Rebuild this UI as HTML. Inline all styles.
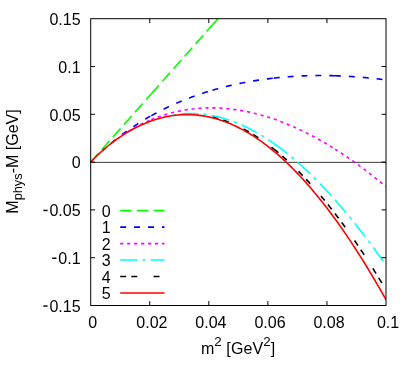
<!DOCTYPE html>
<html><head><meta charset="utf-8"><title>plot</title>
<style>
html,body{margin:0;padding:0;background:#fff;}
body{width:415px;height:375px;overflow:hidden;font-family:"Liberation Sans",sans-serif;}
svg{display:block;will-change:transform;opacity:0.999;}
text{font-family:"Liberation Sans",sans-serif;font-size:16px;fill:#000;}
</style></head><body>
<svg width="415" height="375" viewBox="0 0 415 375">
<rect x="0" y="0" width="415" height="375" fill="#ffffff"/>
<defs><clipPath id="c"><rect x="90.70" y="18.70" width="295.30" height="286.80"/></clipPath>
<clipPath id="c_black"><rect x="205.00" y="18.70" width="181.00" height="286.80"/></clipPath>
<clipPath id="c_cyan"><rect x="172.00" y="18.70" width="214.00" height="286.80"/></clipPath>
<clipPath id="c_mag"><rect x="118.00" y="18.70" width="268.00" height="286.80"/></clipPath>
<clipPath id="c_blue"><rect x="103.00" y="18.70" width="283.00" height="286.80"/></clipPath>
</defs>
<line x1="90.70" y1="162.35" x2="386.00" y2="162.35" stroke="#222" stroke-width="0.9"/>
<g clip-path="url(#c)" fill="none" stroke-width="1.6" stroke-linejoin="round">
<path d="M90.70,162.10 L92.22,160.39 L93.73,158.69 L95.25,156.98 L96.76,155.27 L98.28,153.57 L99.79,151.86 L101.31,150.15 L102.82,148.45 L104.34,146.74 L105.85,145.03 L107.37,143.33 L108.88,141.62 L110.40,139.91 L111.91,138.20 L113.43,136.50 L114.94,134.79 L116.45,133.08 L117.97,131.38 L119.48,129.67 L121.00,127.96 L122.52,126.26 L124.03,124.55 L125.55,122.84 L127.06,121.14 L128.58,119.43 L130.09,117.72 L131.61,116.02 L133.12,114.31 L134.63,112.60 L136.15,110.90 L137.67,109.19 L139.18,107.48 L140.69,105.78 L142.21,104.07 L143.73,102.36 L145.24,100.65 L146.75,98.95 L148.27,97.24 L149.79,95.53 L151.30,93.83" stroke="#00ff00" stroke-dasharray="11.5 5.2"/>
<path d="M151.30,93.83 L152.83,92.10 L154.36,90.38 L155.89,88.66 L157.42,86.93 L158.95,85.21 L160.48,83.49 L162.01,81.76 L163.54,80.04 L165.07,78.31 L166.60,76.59 L168.13,74.87 L169.66,73.14 L171.19,71.42 L172.72,69.70 L174.25,67.97 L175.78,66.25 L177.31,64.52 L178.84,62.80 L180.37,61.08 L181.90,59.35 L183.43,57.63 L184.96,55.91 L186.49,54.18 L188.02,52.46 L189.55,50.73 L191.08,49.01 L192.61,47.29 L194.14,45.56 L195.67,43.84 L197.20,42.12 L198.73,40.39 L200.26,38.67 L201.79,36.94 L203.32,35.22 L204.85,33.50 L206.38,31.77 L207.91,30.05 L209.44,28.33 L210.97,26.60 L212.50,24.88" stroke="#00ff00" stroke-dasharray="11.5 5.2"/>
<path d="M212.50,24.88 L214.03,23.15 L215.56,21.43 L217.10,19.70 L218.63,17.97 L220.16,16.25 L221.69,14.52 L223.23,12.79 L224.76,11.07 L226.29,9.34 L227.82,7.61 L229.36,5.89 L230.89,4.16 L232.42,2.43 L233.95,0.71 L235.49,-1.02 L237.02,-2.75 L238.55,-4.47 L240.08,-6.20 L241.62,-7.93 L243.15,-9.65 L244.68,-11.38 L246.22,-13.10 L247.75,-14.83 L249.28,-16.56 L250.81,-18.28 L252.35,-20.01 L253.88,-21.74 L255.41,-23.46 L256.94,-25.19 L258.48,-26.92 L260.01,-28.64 L261.54,-30.37 L263.07,-32.10 L264.61,-33.82 L266.14,-35.55 L267.67,-37.28 L269.20,-39.00 L270.74,-40.73 L272.27,-42.46 L273.80,-44.18" stroke="#00ff00" stroke-dasharray="11.5 5.2"/>
<path d="M273.80,-44.18 L275.33,-45.91 L276.86,-47.63 L278.39,-49.35 L279.92,-51.08 L281.45,-52.80 L282.98,-54.52 L284.51,-56.25 L286.04,-57.97 L287.57,-59.70 L289.10,-61.42 L290.63,-63.14 L292.16,-64.87 L293.69,-66.59 L295.22,-68.31 L296.75,-70.04 L298.28,-71.76 L299.81,-73.49 L301.34,-75.21 L302.87,-76.93 L304.40,-78.66 L305.93,-80.38 L307.46,-82.10 L308.99,-83.83 L310.52,-85.55 L312.05,-87.28 L313.58,-89.00 L315.11,-90.72 L316.64,-92.45 L318.17,-94.17 L319.70,-95.89 L321.23,-97.62 L322.76,-99.34 L324.29,-101.06 L325.82,-102.79 L327.35,-104.51 L328.88,-106.24 L330.41,-107.96 L331.94,-109.68 L333.47,-111.41 L335.00,-113.13" stroke="#00ff00" stroke-dasharray="11.5 5.2"/>
<path d="M335.00,-113.13 L336.27,-114.57 L337.55,-116.00 L338.82,-117.44 L340.10,-118.88 L341.38,-120.31 L342.65,-121.75 L343.93,-123.19 L345.20,-124.62 L346.48,-126.06 L347.75,-127.50 L349.02,-128.93 L350.30,-130.37 L351.57,-131.80 L352.85,-133.24 L354.12,-134.68 L355.40,-136.11 L356.67,-137.55 L357.95,-138.99 L359.22,-140.42 L360.50,-141.86 L361.77,-143.30 L363.05,-144.73 L364.32,-146.17 L365.60,-147.61 L366.88,-149.04 L368.15,-150.48 L369.43,-151.91 L370.70,-153.35 L371.98,-154.79 L373.25,-156.22 L374.53,-157.66 L375.80,-159.10 L377.07,-160.53 L378.35,-161.97 L379.62,-163.41 L380.90,-164.84 L382.18,-166.28 L383.45,-167.72 L384.73,-169.15 L386.00,-170.59" stroke="#00ff00" stroke-dasharray="11.5 5.2"/>
<g clip-path="url(#c_blue)">
<path d="M90.70,162.10 L92.22,160.52 L93.73,158.98 L95.25,157.47 L96.76,155.99 L98.28,154.54 L99.79,153.11 L101.31,151.71 L102.82,150.33 L104.34,148.97 L105.85,147.64 L107.37,146.32 L108.88,145.03 L110.40,143.75 L111.91,142.50 L113.43,141.27 L114.94,140.05 L116.45,138.85 L117.97,137.67 L119.48,136.51 L121.00,135.37 L122.52,134.24 L124.03,133.13 L125.55,132.03 L127.06,130.96 L128.58,129.89 L130.09,128.85 L131.61,127.82 L133.12,126.80 L134.63,125.80 L136.15,124.81 L137.67,123.84 L139.18,122.88 L140.69,121.93 L142.21,121.00 L143.73,120.08 L145.24,119.18 L146.75,118.29 L148.27,117.41 L149.79,116.55 L151.30,115.69" stroke="#0000ff" stroke-dasharray="5.95 7.95"/>
<path d="M151.30,115.69 L152.83,114.85 L154.36,114.01 L155.89,113.19 L157.42,112.38 L158.95,111.58 L160.48,110.79 L162.01,110.01 L163.54,109.25 L165.07,108.50 L166.60,107.76 L168.13,107.03 L169.66,106.31 L171.19,105.60 L172.72,104.90 L174.25,104.22 L175.78,103.54 L177.31,102.88 L178.84,102.22 L180.37,101.58 L181.90,100.94 L183.43,100.32 L184.96,99.70 L186.49,99.10 L188.02,98.51 L189.55,97.92 L191.08,97.34 L192.61,96.78 L194.14,96.22 L195.67,95.67 L197.20,95.13 L198.73,94.60 L200.26,94.08 L201.79,93.57 L203.32,93.07 L204.85,92.57 L206.38,92.08 L207.91,91.61 L209.44,91.14 L210.97,90.68 L212.50,90.22" stroke="#0000ff" stroke-dasharray="5.95 7.95"/>
<path d="M212.50,90.22 L214.03,89.78 L215.56,89.34 L217.10,88.91 L218.63,88.49 L220.16,88.08 L221.69,87.67 L223.23,87.27 L224.76,86.88 L226.29,86.50 L227.82,86.13 L229.36,85.76 L230.89,85.40 L232.42,85.05 L233.95,84.70 L235.49,84.36 L237.02,84.03 L238.55,83.71 L240.08,83.39 L241.62,83.08 L243.15,82.78 L244.68,82.49 L246.22,82.20 L247.75,81.91 L249.28,81.64 L250.81,81.37 L252.35,81.11 L253.88,80.85 L255.41,80.61 L256.94,80.36 L258.48,80.13 L260.01,79.90 L261.54,79.68 L263.07,79.46 L264.61,79.25 L266.14,79.04 L267.67,78.85 L269.20,78.66 L270.74,78.47 L272.27,78.29 L273.80,78.12" stroke="#0000ff" stroke-dasharray="5.95 7.95"/>
<path d="M273.80,78.12 L275.33,77.95 L276.86,77.79 L278.39,77.63 L279.92,77.48 L281.45,77.34 L282.98,77.20 L284.51,77.07 L286.04,76.94 L287.57,76.82 L289.10,76.71 L290.63,76.60 L292.16,76.49 L293.69,76.40 L295.22,76.30 L296.75,76.22 L298.28,76.14 L299.81,76.06 L301.34,75.99 L302.87,75.92 L304.40,75.86 L305.93,75.81 L307.46,75.76 L308.99,75.72 L310.52,75.68 L312.05,75.64 L313.58,75.61 L315.11,75.59 L316.64,75.57 L318.17,75.56 L319.70,75.55 L321.23,75.55 L322.76,75.55 L324.29,75.56 L325.82,75.57 L327.35,75.59 L328.88,75.61 L330.41,75.64 L331.94,75.67 L333.47,75.71 L335.00,75.75" stroke="#0000ff" stroke-dasharray="5.95 7.95"/>
<path d="M335.00,75.75 L336.27,75.79 L337.55,75.84 L338.82,75.88 L340.10,75.93 L341.38,75.98 L342.65,76.04 L343.93,76.10 L345.20,76.16 L346.48,76.23 L347.75,76.30 L349.02,76.37 L350.30,76.45 L351.57,76.53 L352.85,76.61 L354.12,76.70 L355.40,76.79 L356.67,76.88 L357.95,76.98 L359.22,77.08 L360.50,77.18 L361.77,77.28 L363.05,77.39 L364.32,77.51 L365.60,77.62 L366.88,77.74 L368.15,77.86 L369.43,77.99 L370.70,78.12 L371.98,78.25 L373.25,78.38 L374.53,78.52 L375.80,78.66 L377.07,78.81 L378.35,78.96 L379.62,79.11 L380.90,79.26 L382.18,79.42 L383.45,79.58 L384.73,79.75 L386.00,79.91" stroke="#0000ff" stroke-dasharray="5.95 7.95"/>
</g>
<g clip-path="url(#c_mag)">
<path d="M90.70,162.10 L92.22,160.49 L93.73,158.94 L95.25,157.42 L96.76,155.94 L98.28,154.49 L99.79,153.08 L101.31,151.70 L102.82,150.34 L104.34,149.02 L105.85,147.72 L107.37,146.45 L108.88,145.21 L110.40,143.99 L111.91,142.80 L113.43,141.64 L114.94,140.50 L116.45,139.38 L117.97,138.29 L119.48,137.22 L121.00,136.17 L122.52,135.15 L124.03,134.15 L125.55,133.17 L127.06,132.21 L128.58,131.28 L130.09,130.36 L131.61,129.47 L133.12,128.60 L134.63,127.75 L136.15,126.92 L137.67,126.11 L139.18,125.32 L140.69,124.55 L142.21,123.80 L143.73,123.07 L145.24,122.36 L146.75,121.66 L148.27,120.99 L149.79,120.33 L151.30,119.70" stroke="#ff00ff" stroke-dasharray="3.15 3.8"/>
<path d="M151.30,119.70 L152.83,119.07 L154.36,118.47 L155.89,117.88 L157.42,117.31 L158.95,116.76 L160.48,116.23 L162.01,115.71 L163.54,115.21 L165.07,114.73 L166.60,114.27 L168.13,113.82 L169.66,113.40 L171.19,112.98 L172.72,112.59 L174.25,112.21 L175.78,111.85 L177.31,111.51 L178.84,111.18 L180.37,110.87 L181.90,110.57 L183.43,110.29 L184.96,110.03 L186.49,109.78 L188.02,109.55 L189.55,109.33 L191.08,109.13 L192.61,108.94 L194.14,108.77 L195.67,108.62 L197.20,108.48 L198.73,108.35 L200.26,108.24 L201.79,108.15 L203.32,108.06 L204.85,108.00 L206.38,107.95 L207.91,107.91 L209.44,107.89 L210.97,107.88 L212.50,107.89" stroke="#ff00ff" stroke-dasharray="3.15 3.8"/>
<path d="M212.50,107.89 L214.03,107.91 L215.56,107.94 L217.10,107.99 L218.63,108.05 L220.16,108.13 L221.69,108.22 L223.23,108.32 L224.76,108.44 L226.29,108.57 L227.82,108.72 L229.36,108.88 L230.89,109.05 L232.42,109.23 L233.95,109.43 L235.49,109.64 L237.02,109.87 L238.55,110.11 L240.08,110.36 L241.62,110.62 L243.15,110.90 L244.68,111.19 L246.22,111.49 L247.75,111.81 L249.28,112.13 L250.81,112.47 L252.35,112.83 L253.88,113.19 L255.41,113.57 L256.94,113.96 L258.48,114.36 L260.01,114.78 L261.54,115.20 L263.07,115.64 L264.61,116.09 L266.14,116.56 L267.67,117.03 L269.20,117.52 L270.74,118.02 L272.27,118.53 L273.80,119.05" stroke="#ff00ff" stroke-dasharray="3.15 3.8"/>
<path d="M273.80,119.05 L275.33,119.59 L276.86,120.13 L278.39,120.69 L279.92,121.26 L281.45,121.84 L282.98,122.43 L284.51,123.03 L286.04,123.64 L287.57,124.27 L289.10,124.91 L290.63,125.56 L292.16,126.21 L293.69,126.89 L295.22,127.57 L296.75,128.26 L298.28,128.96 L299.81,129.68 L301.34,130.40 L302.87,131.14 L304.40,131.89 L305.93,132.65 L307.46,133.42 L308.99,134.20 L310.52,134.99 L312.05,135.79 L313.58,136.60 L315.11,137.43 L316.64,138.26 L318.17,139.11 L319.70,139.96 L321.23,140.83 L322.76,141.70 L324.29,142.59 L325.82,143.49 L327.35,144.39 L328.88,145.31 L330.41,146.24 L331.94,147.18 L333.47,148.13 L335.00,149.08" stroke="#ff00ff" stroke-dasharray="3.15 3.8"/>
<path d="M335.00,149.08 L336.27,149.89 L337.55,150.71 L338.82,151.53 L340.10,152.35 L341.38,153.19 L342.65,154.03 L343.93,154.88 L345.20,155.74 L346.48,156.60 L347.75,157.47 L349.02,158.35 L350.30,159.23 L351.57,160.12 L352.85,161.02 L354.12,161.92 L355.40,162.83 L356.67,163.75 L357.95,164.68 L359.22,165.61 L360.50,166.55 L361.77,167.49 L363.05,168.45 L364.32,169.41 L365.60,170.37 L366.88,171.34 L368.15,172.32 L369.43,173.31 L370.70,174.30 L371.98,175.30 L373.25,176.31 L374.53,177.32 L375.80,178.34 L377.07,179.37 L378.35,180.40 L379.62,181.44 L380.90,182.48 L382.18,183.54 L383.45,184.59 L384.73,185.66 L386.00,186.73" stroke="#ff00ff" stroke-dasharray="3.15 3.8"/>
</g>
<g clip-path="url(#c_cyan)">
<path d="M90.70,162.10 L92.22,160.44 L93.73,158.87 L95.25,157.35 L96.76,155.86 L98.28,154.42 L99.79,153.02 L101.31,151.64 L102.82,150.30 L104.34,148.99 L105.85,147.70 L107.37,146.45 L108.88,145.22 L110.40,144.01 L111.91,142.84 L113.43,141.69 L114.94,140.56 L116.45,139.46 L117.97,138.39 L119.48,137.34 L121.00,136.31 L122.52,135.31 L124.03,134.33 L125.55,133.38 L127.06,132.45 L128.58,131.54 L130.09,130.65 L131.61,129.79 L133.12,128.96 L134.63,128.14 L136.15,127.35 L137.67,126.58 L139.18,125.83 L140.69,125.11 L142.21,124.41 L143.73,123.73 L145.24,123.07 L146.75,122.44 L148.27,121.82 L149.79,121.23 L151.30,120.67" stroke="#00ffff" stroke-dasharray="17.1 5.15 3.2 5.15"/>
<path d="M151.30,120.67 L152.83,120.12 L154.36,119.59 L155.89,119.08 L157.42,118.60 L158.95,118.14 L160.48,117.70 L162.01,117.28 L163.54,116.88 L165.07,116.51 L166.60,116.16 L168.13,115.83 L169.66,115.53 L171.19,115.24 L172.72,114.98 L174.25,114.74 L175.78,114.52 L177.31,114.32 L178.84,114.14 L180.37,113.99 L181.90,113.85 L183.43,113.74 L184.96,113.65 L186.49,113.58 L188.02,113.54 L189.55,113.51 L191.08,113.51 L192.61,113.52 L194.14,113.56 L195.67,113.62 L197.20,113.70 L198.73,113.80 L200.26,113.92 L201.79,114.06 L203.32,114.23 L204.85,114.41 L206.38,114.62 L207.91,114.84 L209.44,115.09 L210.97,115.36 L212.50,115.64" stroke="#00ffff" stroke-dasharray="17.1 5.15 3.2 5.15"/>
<path d="M212.50,115.64 L214.03,115.95 L215.56,116.28 L217.10,116.63 L218.63,117.00 L220.16,117.39 L221.69,117.80 L223.23,118.23 L224.76,118.69 L226.29,119.16 L227.82,119.65 L229.36,120.16 L230.89,120.69 L232.42,121.24 L233.95,121.81 L235.49,122.40 L237.02,123.01 L238.55,123.64 L240.08,124.29 L241.62,124.96 L243.15,125.65 L244.68,126.36 L246.22,127.09 L247.75,127.83 L249.28,128.60 L250.81,129.38 L252.35,130.19 L253.88,131.01 L255.41,131.85 L256.94,132.71 L258.48,133.59 L260.01,134.49 L261.54,135.41 L263.07,136.34 L264.61,137.30 L266.14,138.27 L267.67,139.26 L269.20,140.27 L270.74,141.30 L272.27,142.34 L273.80,143.40" stroke="#00ffff" stroke-dasharray="17.1 5.15 3.2 5.15"/>
<path d="M273.80,143.40 L275.33,144.48 L276.86,145.58 L278.39,146.70 L279.92,147.83 L281.45,148.98 L282.98,150.15 L284.51,151.34 L286.04,152.54 L287.57,153.76 L289.10,155.00 L290.63,156.26 L292.16,157.53 L293.69,158.82 L295.22,160.13 L296.75,161.45 L298.28,162.79 L299.81,164.15 L301.34,165.53 L302.87,166.92 L304.40,168.32 L305.93,169.75 L307.46,171.19 L308.99,172.65 L310.52,174.12 L312.05,175.61 L313.58,177.11 L315.11,178.63 L316.64,180.17 L318.17,181.72 L319.70,183.29 L321.23,184.88 L322.76,186.48 L324.29,188.09 L325.82,189.72 L327.35,191.37 L328.88,193.03 L330.41,194.71 L331.94,196.40 L333.47,198.11 L335.00,199.83" stroke="#00ffff" stroke-dasharray="17.1 5.15 3.2 5.15"/>
<path d="M335.00,199.83 L336.27,201.28 L337.55,202.73 L338.82,204.20 L340.10,205.67 L341.38,207.16 L342.65,208.66 L343.93,210.16 L345.20,211.68 L346.48,213.21 L347.75,214.74 L349.02,216.29 L350.30,217.85 L351.57,219.41 L352.85,220.99 L354.12,222.57 L355.40,224.17 L356.67,225.77 L357.95,227.38 L359.22,229.01 L360.50,230.64 L361.77,232.28 L363.05,233.93 L364.32,235.59 L365.60,237.26 L366.88,238.94 L368.15,240.62 L369.43,242.32 L370.70,244.02 L371.98,245.74 L373.25,247.46 L374.53,249.19 L375.80,250.93 L377.07,252.68 L378.35,254.44 L379.62,256.20 L380.90,257.98 L382.18,259.76 L383.45,261.55 L384.73,263.35 L386.00,265.16" stroke="#00ffff" stroke-dasharray="17.1 5.15 3.2 5.15"/>
</g>
<g clip-path="url(#c_black)">
<path d="M90.70,162.10 L92.22,160.44 L93.73,158.87 L95.25,157.35 L96.76,155.86 L98.28,154.42 L99.79,153.02 L101.31,151.64 L102.82,150.30 L104.34,148.99 L105.85,147.70 L107.37,146.45 L108.88,145.22 L110.40,144.02 L111.91,142.85 L113.43,141.70 L114.94,140.57 L116.45,139.48 L117.97,138.40 L119.48,137.36 L121.00,136.33 L122.52,135.33 L124.03,134.36 L125.55,133.41 L127.06,132.48 L128.58,131.58 L130.09,130.70 L131.61,129.85 L133.12,129.02 L134.63,128.21 L136.15,127.42 L137.67,126.66 L139.18,125.92 L140.69,125.21 L142.21,124.52 L143.73,123.85 L145.24,123.20 L146.75,122.58 L148.27,121.98 L149.79,121.40 L151.30,120.85" stroke="#000000" stroke-dasharray="5.95 5.15 5.95 16.3"/>
<path d="M151.30,120.85 L152.83,120.31 L154.36,119.80 L155.89,119.31 L157.42,118.84 L158.95,118.40 L160.48,117.98 L162.01,117.58 L163.54,117.20 L165.07,116.85 L166.60,116.52 L168.13,116.22 L169.66,115.94 L171.19,115.68 L172.72,115.44 L174.25,115.23 L175.78,115.03 L177.31,114.87 L178.84,114.72 L180.37,114.60 L181.90,114.50 L183.43,114.42 L184.96,114.37 L186.49,114.33 L188.02,114.32 L189.55,114.34 L191.08,114.37 L192.61,114.43 L194.14,114.51 L195.67,114.61 L197.20,114.74 L198.73,114.89 L200.26,115.06 L201.79,115.25 L203.32,115.47 L204.85,115.70 L206.38,115.96 L207.91,116.24 L209.44,116.55 L210.97,116.88 L212.50,117.22" stroke="#000000" stroke-dasharray="5.95 5.15 5.95 16.3"/>
<path d="M212.50,117.22 L214.03,117.60 L215.56,117.99 L217.10,118.40 L218.63,118.84 L220.16,119.30 L221.69,119.78 L223.23,120.29 L224.76,120.81 L226.29,121.36 L227.82,121.93 L229.36,122.52 L230.89,123.13 L232.42,123.77 L233.95,124.43 L235.49,125.11 L237.02,125.81 L238.55,126.53 L240.08,127.27 L241.62,128.04 L243.15,128.82 L244.68,129.63 L246.22,130.46 L247.75,131.31 L249.28,132.18 L250.81,133.08 L252.35,133.99 L253.88,134.93 L255.41,135.89 L256.94,136.86 L258.48,137.86 L260.01,138.88 L261.54,139.93 L263.07,140.99 L264.61,142.07 L266.14,143.18 L267.67,144.30 L269.20,145.45 L270.74,146.61 L272.27,147.80 L273.80,149.01" stroke="#000000" stroke-dasharray="5.95 5.15 5.95 16.3"/>
<path d="M273.80,149.01 L275.33,150.24 L276.86,151.48 L278.39,152.75 L279.92,154.04 L281.45,155.35 L282.98,156.68 L284.51,158.03 L286.04,159.40 L287.57,160.79 L289.10,162.20 L290.63,163.62 L292.16,165.07 L293.69,166.54 L295.22,168.03 L296.75,169.54 L298.28,171.07 L299.81,172.62 L301.34,174.19 L302.87,175.78 L304.40,177.38 L305.93,179.01 L307.46,180.66 L308.99,182.32 L310.52,184.01 L312.05,185.71 L313.58,187.44 L315.11,189.18 L316.64,190.94 L318.17,192.72 L319.70,194.52 L321.23,196.34 L322.76,198.18 L324.29,200.04 L325.82,201.91 L327.35,203.81 L328.88,205.72 L330.41,207.65 L331.94,209.60 L333.47,211.57 L335.00,213.56" stroke="#000000" stroke-dasharray="5.95 5.15 5.95 16.3"/>
<path d="M335.00,213.56 L336.27,215.23 L337.55,216.91 L338.82,218.61 L340.10,220.32 L341.38,222.04 L342.65,223.77 L343.93,225.51 L345.20,227.27 L346.48,229.04 L347.75,230.83 L349.02,232.62 L350.30,234.43 L351.57,236.25 L352.85,238.08 L354.12,239.93 L355.40,241.78 L356.67,243.65 L357.95,245.53 L359.22,247.43 L360.50,249.33 L361.77,251.25 L363.05,253.18 L364.32,255.12 L365.60,257.07 L366.88,259.04 L368.15,261.01 L369.43,263.00 L370.70,265.00 L371.98,267.01 L373.25,269.03 L374.53,271.07 L375.80,273.12 L377.07,275.17 L378.35,277.24 L379.62,279.32 L380.90,281.42 L382.18,283.52 L383.45,285.64 L384.73,287.76 L386.00,289.90" stroke="#000000" stroke-dasharray="5.95 5.15 5.95 16.3"/>
</g>
<path d="M90.70,162.10 L92.55,160.10 L94.39,158.20 L96.24,156.37 L98.08,154.60 L99.93,152.89 L101.77,151.22 L103.62,149.60 L105.47,148.03 L107.31,146.49 L109.16,145.00 L111.00,143.55 L112.85,142.13 L114.69,140.76 L116.54,139.42 L118.38,138.12 L120.23,136.86 L122.08,135.63 L123.92,134.44 L125.77,133.28 L127.61,132.16 L129.46,131.08 L131.30,130.03 L133.15,129.02 L135.00,128.04 L136.84,127.10 L138.69,126.19 L140.53,125.32 L142.38,124.48 L144.22,123.67 L146.07,122.90 L147.91,122.17 L149.76,121.47 L151.61,120.80 L153.45,120.17 L155.30,119.57 L157.14,119.01 L158.99,118.48 L160.83,117.98 L162.68,117.52 L164.53,117.09 L166.37,116.70 L168.22,116.34 L170.06,116.01 L171.91,115.72 L173.75,115.46 L175.60,115.24 L177.44,115.05 L179.29,114.89 L181.14,114.77 L182.98,114.68 L184.83,114.62 L186.67,114.60 L188.52,114.61 L190.36,114.66 L192.21,114.73 L194.06,114.85 L195.90,114.99 L197.75,115.17 L199.59,115.38 L201.44,115.63 L203.28,115.91 L205.13,116.22 L206.97,116.57 L208.82,116.95 L210.67,117.36 L212.51,117.80 L214.36,118.28 L216.20,118.79 L218.05,119.34 L219.89,119.92 L221.74,120.53 L223.58,121.17 L225.43,121.85 L227.28,122.55 L229.12,123.30 L230.97,124.07 L232.81,124.88 L234.66,125.72 L236.50,126.59 L238.35,127.50 L240.20,128.44 L242.04,129.41 L243.89,130.41 L245.73,131.44 L247.58,132.51 L249.42,133.61 L251.27,134.74 L253.12,135.91 L254.96,137.10 L256.81,138.33 L258.65,139.59 L260.50,140.88 L262.34,142.21 L264.19,143.56 L266.03,144.95 L267.88,146.37 L269.73,147.82 L271.57,149.30 L273.42,150.82 L275.26,152.36 L277.11,153.94 L278.95,155.55 L280.80,157.18 L282.64,158.85 L284.49,160.56 L286.34,162.29 L288.18,164.05 L290.03,165.85 L291.87,167.67 L293.72,169.53 L295.56,171.41 L297.41,173.33 L299.26,175.28 L301.10,177.26 L302.95,179.26 L304.79,181.30 L306.64,183.37 L308.48,185.47 L310.33,187.60 L312.18,189.76 L314.02,191.95 L315.87,194.17 L317.71,196.41 L319.56,198.69 L321.40,201.00 L323.25,203.34 L325.09,205.70 L326.94,208.10 L328.79,210.52 L330.63,212.98 L332.48,215.46 L334.32,217.97 L336.17,220.51 L338.01,223.08 L339.86,225.68 L341.71,228.31 L343.55,230.97 L345.40,233.65 L347.24,236.36 L349.09,239.10 L350.93,241.87 L352.78,244.67 L354.62,247.49 L356.47,250.35 L358.32,253.23 L360.16,256.13 L362.01,259.07 L363.85,262.03 L365.70,265.02 L367.54,268.04 L369.39,271.09 L371.24,274.16 L373.08,277.26 L374.93,280.38 L376.77,283.54 L378.62,286.72 L380.46,289.92 L382.31,293.16 L384.15,296.41 L386.00,299.70" stroke="#ff0000"/>
</g>
<g fill="none" stroke-width="1.6">
<line x1="120.20" y1="210.65" x2="164.55" y2="210.65" stroke="#00ff00" stroke-dasharray="11.5 5.2"/>
<line x1="120.20" y1="227.10" x2="164.55" y2="227.10" stroke="#0000ff" stroke-dasharray="5.95 7.95"/>
<line x1="120.20" y1="243.60" x2="164.55" y2="243.60" stroke="#ff00ff" stroke-dasharray="3.15 3.8"/>
<line x1="120.20" y1="260.05" x2="164.55" y2="260.05" stroke="#00ffff" stroke-dasharray="17.1 5.15 3.2 5.15"/>
<line x1="120.20" y1="276.50" x2="164.55" y2="276.50" stroke="#000000" stroke-dasharray="5.95 5.15 5.95 16.3"/>
<line x1="120.20" y1="293.00" x2="164.55" y2="293.00" stroke="#ff0000"/>
</g>
<g stroke="#000" stroke-width="1.0" fill="none">
<rect x="90.70" y="18.70" width="295.30" height="286.80"/>
<line x1="149.76" y1="305.50" x2="149.76" y2="301.10"/>
<line x1="149.76" y1="18.70" x2="149.76" y2="23.10"/>
<line x1="208.82" y1="305.50" x2="208.82" y2="301.10"/>
<line x1="208.82" y1="18.70" x2="208.82" y2="23.10"/>
<line x1="267.88" y1="305.50" x2="267.88" y2="301.10"/>
<line x1="267.88" y1="18.70" x2="267.88" y2="23.10"/>
<line x1="326.94" y1="305.50" x2="326.94" y2="301.10"/>
<line x1="326.94" y1="18.70" x2="326.94" y2="23.10"/>
<line x1="90.70" y1="66.50" x2="95.10" y2="66.50"/>
<line x1="386.00" y1="66.50" x2="381.60" y2="66.50"/>
<line x1="90.70" y1="114.30" x2="95.10" y2="114.30"/>
<line x1="386.00" y1="114.30" x2="381.60" y2="114.30"/>
<line x1="90.70" y1="162.10" x2="95.10" y2="162.10"/>
<line x1="386.00" y1="162.10" x2="381.60" y2="162.10"/>
<line x1="90.70" y1="209.90" x2="95.10" y2="209.90"/>
<line x1="386.00" y1="209.90" x2="381.60" y2="209.90"/>
<line x1="90.70" y1="257.70" x2="95.10" y2="257.70"/>
<line x1="386.00" y1="257.70" x2="381.60" y2="257.70"/>
</g>
<text x="80.60" y="24.90" text-anchor="end">0.15</text>
<text x="80.60" y="72.70" text-anchor="end">0.1</text>
<text x="80.60" y="120.50" text-anchor="end">0.05</text>
<text x="80.60" y="168.30" text-anchor="end">0</text>
<text x="80.60" y="216.10" text-anchor="end">0.05</text>
<line x1="43.35" y1="210.45" x2="47.55" y2="210.45" stroke="#000" stroke-width="1.45"/>
<text x="80.60" y="263.90" text-anchor="end">0.1</text>
<line x1="52.25" y1="258.25" x2="56.45" y2="258.25" stroke="#000" stroke-width="1.45"/>
<text x="80.60" y="311.70" text-anchor="end">0.15</text>
<line x1="43.35" y1="306.05" x2="47.55" y2="306.05" stroke="#000" stroke-width="1.45"/>
<text x="92.80" y="328.00" text-anchor="middle">0</text>
<text x="151.86" y="328.00" text-anchor="middle">0.02</text>
<text x="210.92" y="328.00" text-anchor="middle">0.04</text>
<text x="269.98" y="328.00" text-anchor="middle">0.06</text>
<text x="329.04" y="328.00" text-anchor="middle">0.08</text>
<text x="388.10" y="328.00" text-anchor="middle">0.1</text>
<text x="110.70" y="216.95" text-anchor="end">0</text>
<text x="110.70" y="233.40" text-anchor="end">1</text>
<text x="110.70" y="249.90" text-anchor="end">2</text>
<text x="110.70" y="266.35" text-anchor="end">3</text>
<text x="110.70" y="282.80" text-anchor="end">4</text>
<text x="110.70" y="299.30" text-anchor="end">5</text>
<text x="200.90" y="354.00" textLength="74.2" lengthAdjust="spacing">m<tspan font-size="13.3px" dy="-7.8">2</tspan><tspan dy="7.8"> [GeV</tspan><tspan font-size="13.3px" dy="-7.8">2</tspan><tspan dy="7.8">]</tspan></text>
<text transform="translate(17.50,161.50) rotate(-90)" text-anchor="middle">M<tspan font-size="12.8px" dy="4.8">phys</tspan><tspan dy="-4.8">-M [GeV]</tspan></text>
</svg></body></html>
